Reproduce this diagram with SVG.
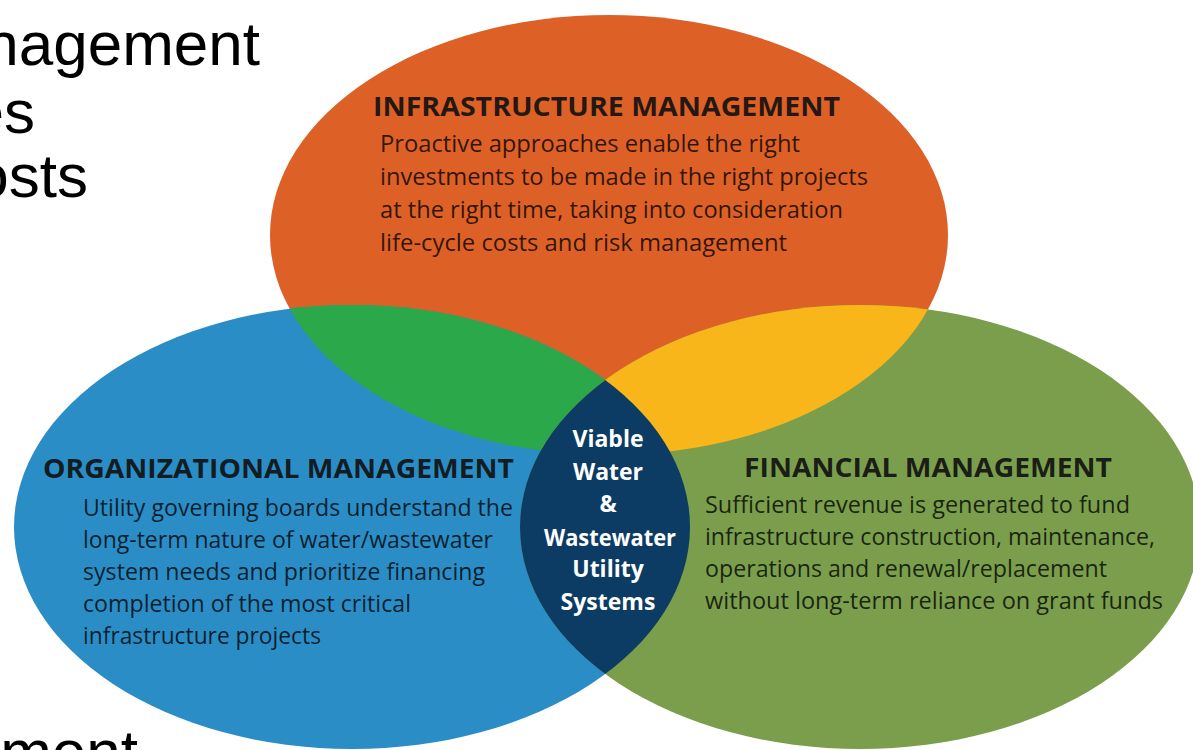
<svg xmlns="http://www.w3.org/2000/svg" width="1193" height="750" viewBox="0 0 1193 750">
<style>
.big{font-family:"Liberation Sans",Arial,sans-serif;font-size:62px;fill:#000}
.hd{font-family:"Open Sans","DejaVu Sans",sans-serif;font-weight:700;font-size:27px;fill:#111;fill-opacity:.92}
.bd{font-family:"Open Sans","DejaVu Sans",sans-serif;font-size:23px;fill:#000;fill-opacity:.78}
.ct{font-family:"Open Sans","DejaVu Sans",sans-serif;font-weight:700;font-size:23px;fill:#fff;text-anchor:middle}
</style>
<defs>
<ellipse id="eO" cx="609" cy="235" rx="339" ry="220"/>
<ellipse id="eB" cx="352" cy="527" rx="338" ry="222"/>
<ellipse id="eG" cx="860" cy="527" rx="340" ry="222"/>
<clipPath id="cO"><use href="#eO"/></clipPath>
<clipPath id="cB"><use href="#eB"/></clipPath>
</defs>
<rect width="1193" height="750" fill="#fff"/>
<g id="background-text">
<text class="big" x="260" y="65" text-anchor="end">nagement</text>
<text class="big" x="35" y="133" text-anchor="end">es</text>
<text class="big" x="88" y="197" text-anchor="end">osts</text>
<text class="big" x="138" y="773" text-anchor="end">ment</text>
</g>
<g id="shapes">
<use href="#eO" fill="#DD6026"/>
<use href="#eB" fill="#2A8DC6"/>
<use href="#eG" fill="#7A9E4B"/>
<use href="#eB" fill="#2BA84A" clip-path="url(#cO)"/>
<use href="#eG" fill="#F8B61B" clip-path="url(#cO)"/>
<use href="#eG" fill="#0C3B63" clip-path="url(#cB)"/>
</g>
<g id="infrastructure">
<text class="hd" x="373" y="116" textLength="467" lengthAdjust="spacingAndGlyphs">INFRASTRUCTURE MANAGEMENT</text>
<text class="bd" x="380" y="152" textLength="420" lengthAdjust="spacingAndGlyphs">Proactive approaches enable the right</text>
<text class="bd" x="380" y="185" textLength="488" lengthAdjust="spacingAndGlyphs">investments to be made in the right projects</text>
<text class="bd" x="380" y="218" textLength="463" lengthAdjust="spacingAndGlyphs">at the right time, taking into consideration</text>
<text class="bd" x="380" y="251" textLength="407" lengthAdjust="spacingAndGlyphs">life-cycle costs and risk management</text>
</g>
<g id="organizational">
<text class="hd" x="43" y="478" textLength="471" lengthAdjust="spacingAndGlyphs">ORGANIZATIONAL MANAGEMENT</text>
<text class="bd" x="83" y="516" textLength="430" lengthAdjust="spacingAndGlyphs">Utility governing boards understand the</text>
<text class="bd" x="83" y="548" textLength="410" lengthAdjust="spacingAndGlyphs">long-term nature of water/wastewater</text>
<text class="bd" x="83" y="580" textLength="402" lengthAdjust="spacingAndGlyphs">system needs and prioritize financing</text>
<text class="bd" x="83" y="612" textLength="328" lengthAdjust="spacingAndGlyphs">completion of the most critical</text>
<text class="bd" x="83" y="644" textLength="238" lengthAdjust="spacingAndGlyphs">infrastructure projects</text>
</g>
<g id="financial">
<text class="hd" x="744" y="477" textLength="368" lengthAdjust="spacingAndGlyphs">FINANCIAL MANAGEMENT</text>
<text class="bd" x="705" y="513" textLength="425" lengthAdjust="spacingAndGlyphs">Sufficient revenue is generated to fund</text>
<text class="bd" x="705" y="545" textLength="450" lengthAdjust="spacingAndGlyphs">infrastructure construction, maintenance,</text>
<text class="bd" x="705" y="577" textLength="402" lengthAdjust="spacingAndGlyphs">operations and renewal/replacement</text>
<text class="bd" x="705" y="609" textLength="458" lengthAdjust="spacingAndGlyphs">without long-term reliance on grant funds</text>
</g>
<g id="center">
<text class="ct" x="608" y="447">Viable</text>
<text class="ct" x="608" y="480">Water</text>
<text class="ct" x="608" y="512">&amp;</text>
<text class="ct" x="610" y="546" textLength="132" lengthAdjust="spacingAndGlyphs">Wastewater</text>
<text class="ct" x="608" y="577">Utility</text>
<text class="ct" x="608" y="610">Systems</text>
</g>
<g id="connectors"/>
</svg>
